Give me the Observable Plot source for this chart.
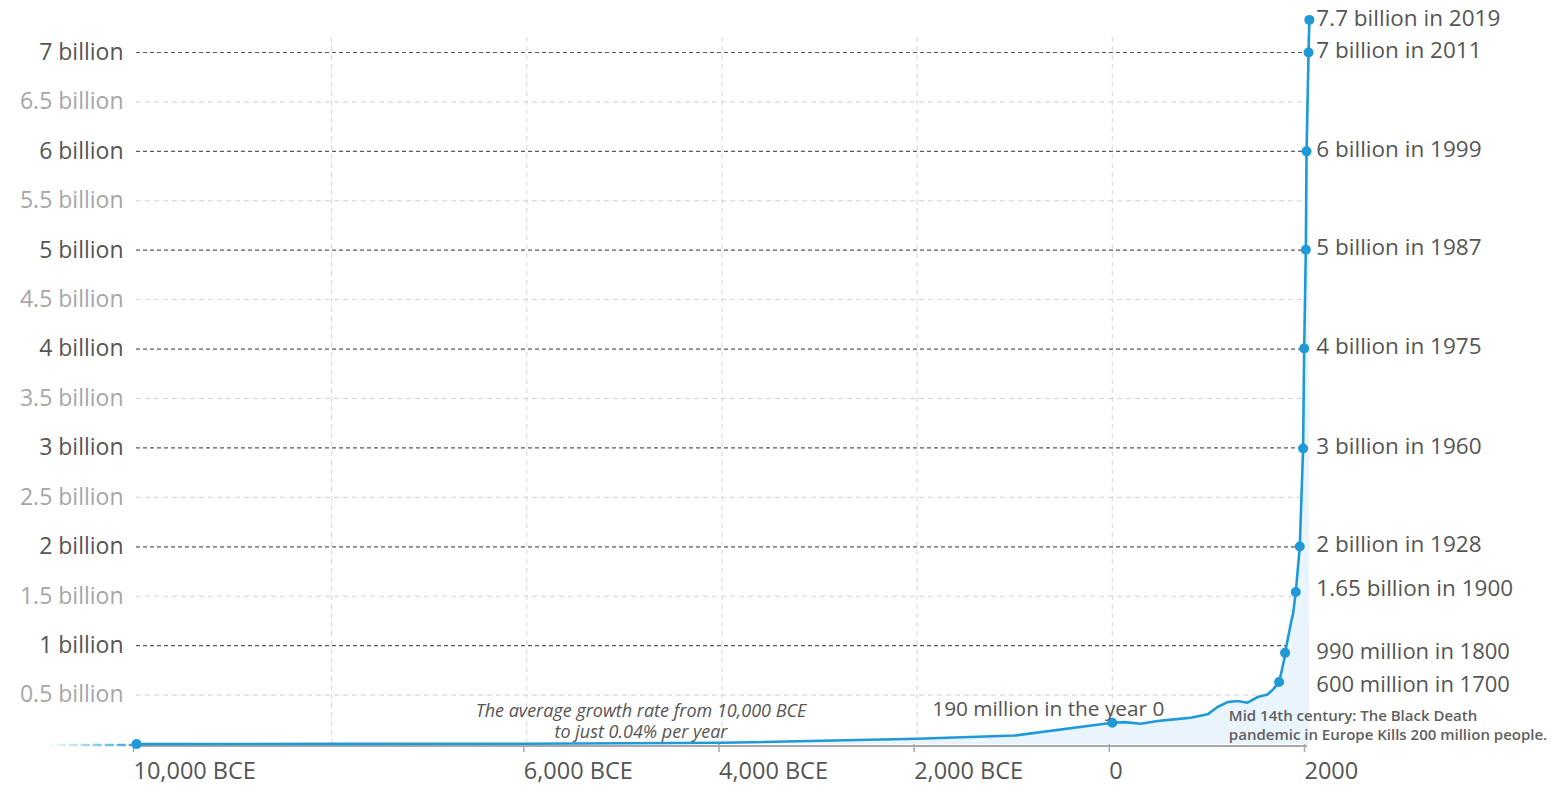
<!DOCTYPE html>
<html>
<head>
<meta charset="utf-8">
<script src="https://cdn.jsdelivr.net/npm/d3@7"></script>
<script src="https://cdn.jsdelivr.net/npm/@observablehq/plot@0.6"></script>
<style>
  html, body { margin: 0; padding: 0; background: #fff; }
  #chart svg { display: block; }
</style>
</head>
<body>
<div id="chart"></div>
<script>
// ---- Data (values in billions) ----
const years  = [-10000, -8000, -6000, -4000, -2000, -1000, 0, 121, 292, 463, 630, 804, 976, 1078, 1181, 1283, 1386, 1488, 1590, 1650, 1709, 1760, 1770, 1829, 1853, 1880, 1921, 1955, 1966, 1983, 1990, 2011, 2019];
const values = [0.004, 0.006, 0.008, 0.017, 0.058, 0.091, 0.22, 0.226, 0.21, 0.237, 0.254, 0.271, 0.305, 0.379, 0.429, 0.44, 0.423, 0.48, 0.505, 0.56, 0.632, 0.853, 0.927, 1.225, 1.327, 1.543, 2.003, 2.995, 4.007, 5.005, 6.0, 7.0, 7.33];

// milestone points
const dotYears  = [-10000, 0, 1709, 1770, 1880, 1921, 1955, 1966, 1983, 1990, 2011, 2019];
const dotValues = [0.004, 0.22, 0.632, 0.927, 1.543, 2.003, 2.995, 4.007, 5.005, 6.0, 7.0, 7.33];

// right-hand milestone labels
const labelTexts  = ["7.7 billion in 2019", "7 billion in 2011", "6 billion in 1999", "5 billion in 1987", "4 billion in 1975", "3 billion in 1960", "2 billion in 1928"];
const labelValues = [7.33, 7.0, 6.0, 5.005, 4.007, 2.995, 2.003];
const lowLabels   = ["1.65 billion in 1900", "990 million in 1800", "600 million in 1700"];
const lowValues   = [1.543, 0.927, 0.632];

// dashed lead-in before 10,000 BCE
const leadYears  = [-10930, -10000];
const leadValues = [0.004, 0.004];

// axes
const yMajor = [1, 2, 3, 4, 5, 6, 7];
const yMinor = [0.5, 1.5, 2.5, 3.5, 4.5, 5.5, 6.5];
const xGrid  = [-8000, -6000, -4000, -2000, 0, 2000];
const xTicks = [-10000, -6000, -4000, -2000, 0, 2000];
const xTickLabels = ["10,000 BCE", "6,000 BCE", "4,000 BCE", "2,000 BCE", "0", "2000"];

// annotations
const noteGrowth = {year: -4830, value: 0.24, text: "The average growth rate from 10,000 BCE\nto just 0.04% per year"};
const noteZero   = {year: 0, value: 0.22, text: "190 million in the year 0"};
const noteDeath  = {year: 1194, value: 0.2, text: "Mid 14th century: The Black Death\npandemic in Europe Kills 200 million people."};

// ---- Build tables ----
const series = years.map((y, i) => ({year: y, pop: values[i]}));
const dots = dotYears.map((y, i) => ({year: y, pop: dotValues[i]}));
const lead = leadYears.map((y, i) => ({year: y, pop: leadValues[i]}));
const labels = labelTexts.map((t, i) => ({text: t, pop: labelValues[i]}));
const lows = lowLabels.map((t, i) => ({text: t, pop: lowValues[i]}));

const blue = "#1f9ad7";
const textDark = "#555";
const font = "Open Sans";

const chart = Plot.plot({
  width: 1568,
  height: 786,
  marginLeft: 136,
  marginRight: 261,
  marginTop: 52,
  marginBottom: 42,
  style: {fontFamily: font, overflow: "visible", background: "#fff"},
  x: {domain: [-10000, 2000]},
  y: {domain: [0, 7]},
  marks: [
    // vertical light gridlines
    Plot.ruleX(xGrid, {y1: 0, y2: 7.17, stroke: "#d6d6d6", strokeDasharray: "5,4", strokeWidth: 1}),
    // horizontal gridlines
    Plot.ruleY(yMinor, {x1: -10000, x2: 2000, stroke: "#d2d2d2", strokeDasharray: "5,4", strokeWidth: 1}),
    Plot.ruleY(yMajor, {x1: -10000, x2: 2000, stroke: "#5a5a5a", strokeDasharray: "4,3", strokeWidth: 1.2}),
    // area under curve
    Plot.areaY(series, {x: "year", y: "pop", fill: "#e9f4fc"}),
    // x baseline and ticks
    Plot.ruleY([0], {x1: -10000, x2: 2000, stroke: "#a8a8a8", strokeWidth: 2, dy: 1.5}),
    Plot.axisX(xTicks, {
      tickSize: 8, tickPadding: 10, stroke: "#a8a8a8", strokeWidth: 1.5,
      tickFormat: d => xTickLabels[xTicks.indexOf(d)],
      textAnchor: "start", dx: -3, fontSize: 23.5, fill: textDark, label: null
    }),
    // y axes
    Plot.axisY(yMajor, {tickSize: 0, tickPadding: 13, tickFormat: d => `${d} billion`, fontSize: 23, fill: textDark, label: null}),
    Plot.axisY(yMinor, {tickSize: 0, tickPadding: 13, tickFormat: d => `${d} billion`, fontSize: 23, fill: "#a6a6a6", label: null}),
    // dashed lead-in
    Plot.line(lead, {x: "year", y: "pop", stroke: "url(#leadFade)", strokeWidth: 2.5, strokeDasharray: "7,5", dy: 1}),
    // main line
    Plot.line(series, {x: "year", y: "pop", stroke: blue, strokeWidth: 2.6}),
    Plot.dot(dots, {x: "year", y: "pop", r: 5, fill: blue}),
    // milestone labels
    Plot.text(labels, {x: () => 2019, y: "pop", text: "text", textAnchor: "start", dx: 7, dy: -1.5, fontSize: 22.5, fill: textDark}),
    Plot.text([lows[0]], {x: () => 2019, y: "pop", text: "text", textAnchor: "start", dx: 7, dy: -3, fontSize: 22.5, fill: textDark}),
    Plot.text([lows[1]], {x: () => 2019, y: "pop", text: "text", textAnchor: "start", dx: 7, dy: -0.5, fontSize: 22, fill: textDark}),
    Plot.text([lows[2]], {x: () => 2019, y: "pop", text: "text", textAnchor: "start", dx: 7, dy: 2.5, fontSize: 22, fill: textDark}),
    // annotations
    Plot.text([noteZero], {x: "year", y: "value", text: "text", textAnchor: "middle", dx: -64, dy: -13, fontSize: 20.8, fill: textDark}),
    Plot.text([noteGrowth], {x: "year", y: "value", text: "text", textAnchor: "middle", fontSize: 18, fontStyle: "italic", fill: textDark, lineHeight: 1.17}),
    Plot.text([noteDeath], {x: "year", y: "value", text: "text", textAnchor: "start", fontSize: 15, fontWeight: 600, fill: "#606060", lineHeight: 1.27})
  ]
});

// gradient for the lead-in dashed line
const xs = chart.scale("x");
const svg = d3.select(chart);
const defs = svg.insert("defs", ":first-child");
const grad = defs.append("linearGradient")
  .attr("id", "leadFade")
  .attr("gradientUnits", "userSpaceOnUse")
  .attr("x1", xs.apply(leadYears[0])).attr("x2", xs.apply(leadYears[1]))
  .attr("y1", 0).attr("y2", 0);
grad.append("stop").attr("offset", "0%").attr("stop-color", blue).attr("stop-opacity", 0);
grad.append("stop").attr("offset", "100%").attr("stop-color", blue).attr("stop-opacity", 0.9);

document.getElementById("chart").appendChild(chart);
</script>
</body>
</html>
